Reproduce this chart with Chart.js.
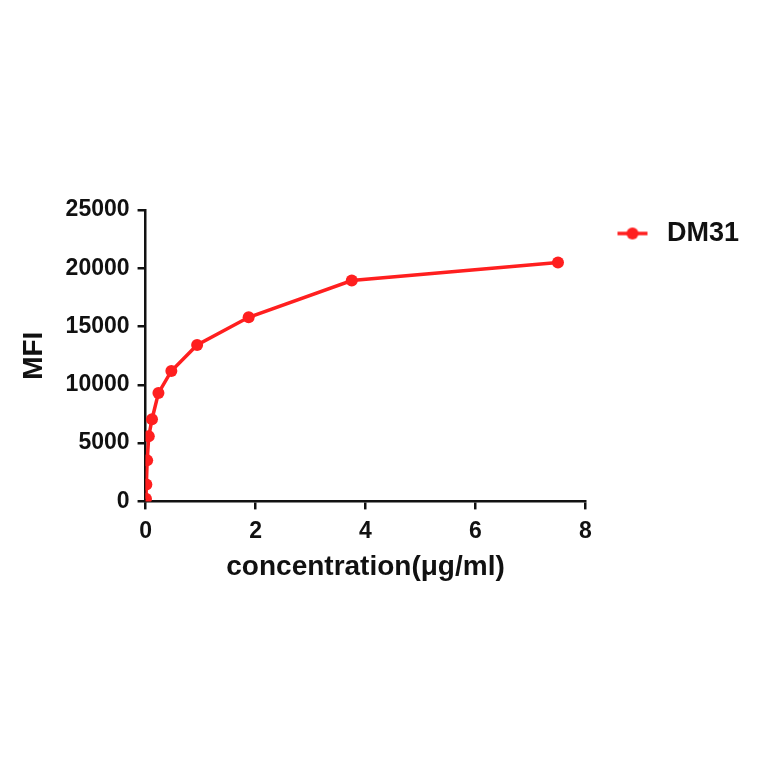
<!DOCTYPE html>
<html>
<head>
<meta charset="utf-8">
<script src="https://cdn.jsdelivr.net/npm/chart.js@4.4.1/dist/chart.umd.min.js"></script>
<style>
  html, body { margin: 0; padding: 0; background: #fff; }
  #wrap { width: 764px; height: 764px; }
</style>
</head>
<body>
<div id="wrap"><canvas id="chart" width="764" height="764"></canvas></div>
<script>
// concentration (ug/ml) and MFI
const concentrations = [7.5, 3.75, 1.875, 0.9375, 0.469, 0.234, 0.117, 0.0586, 0.0293, 0.0146, 0.0073];
const mfiValues = [20500, 18950, 15800, 13420, 11190, 9290, 7050, 5580, 3520, 1450, 220];
const xTicks = [0, 2, 4, 6, 8];
const yTicks = [0, 5000, 10000, 15000, 20000, 25000];
const seriesName = "DM31";

const red = "#ff1f1f";
const ink = "#111";
const font = "'Liberation Sans', Arial, sans-serif";

// legend marker: short line with a dot, with some blank room on the left
function legendMarker() {
    const c = document.createElement("canvas");
    c.width = 58;
    c.height = 14;
    const g = c.getContext("2d");
    g.strokeStyle = red;
    g.lineWidth = 3.5;
    g.beginPath();
    g.moveTo(22, 7);
    g.lineTo(52, 7);
    g.stroke();
    g.fillStyle = red;
    g.beginPath();
    g.arc(37, 7, 6, 0, Math.PI * 2);
    g.fill();
    return c;
}

const points = concentrations.map((x, i) => ({ x: x, y: mfiValues[i] }));

const ctx = document.getElementById("chart").getContext("2d");
new Chart(ctx, {
    type: "scatter",
    data: {
        datasets: [{
            label: seriesName,
            data: points,
            showLine: true,
            borderColor: red,
            backgroundColor: red,
            borderWidth: 3.5,
            pointRadius: 6,
            pointBorderWidth: 0,
            pointStyle: "circle"
        }]
    },
    options: {
        responsive: false,
        animation: false,
        layout: {
            padding: { top: 210, bottom: 183, left: 14, right: 15 }
        },
        plugins: {
            legend: {
                position: "right",
                align: "start",
                labels: {
                    color: ink,
                    font: { family: font, size: 27, weight: "bold" },
                    usePointStyle: true,
                    pointStyleWidth: 58,
                    padding: 10,
                    generateLabels: (chart) => [{
                        text: seriesName,
                        pointStyle: legendMarker(),
                        fillStyle: red,
                        strokeStyle: red,
                        lineWidth: 0,
                        datasetIndex: 0,
                        fontColor: ink
                    }]
                }
            },
            tooltip: { enabled: false }
        },
        scales: {
            x: {
                type: "linear",
                min: 0,
                max: 8,
                afterBuildTicks: (axis) => { axis.ticks = xTicks.map(v => ({ value: v })); },
                border: { display: true, color: ink, width: 2.5 },
                grid: { drawOnChartArea: false, drawTicks: true, tickLength: 8, color: ink, lineWidth: 2.5 },
                ticks: {
                    color: ink,
                    font: { family: font, size: 23, weight: "bold" },
                    padding: 8,
                    maxRotation: 0
                },
                title: {
                    display: true,
                    text: "concentration(μg/ml)",
                    color: ink,
                    font: { family: font, size: 28, weight: "bold", lineHeight: 1 },
                    padding: { top: 0, bottom: 0 }
                }
            },
            y: {
                type: "linear",
                min: 0,
                max: 25000,
                afterBuildTicks: (axis) => { axis.ticks = yTicks.map(v => ({ value: v })); },
                border: { display: true, color: ink, width: 2.5 },
                grid: { drawOnChartArea: false, drawTicks: true, tickLength: 8, color: ink, lineWidth: 2.5 },
                ticks: {
                    color: ink,
                    font: { family: font, size: 23, weight: "bold" },
                    padding: 8,
                    callback: (v) => String(v)
                },
                title: {
                    display: true,
                    text: "MFI",
                    color: ink,
                    font: { family: font, size: 28, weight: "bold" },
                    padding: { top: 3, bottom: 7 }
                }
            }
        }
    }
});
</script>
</body>
</html>
